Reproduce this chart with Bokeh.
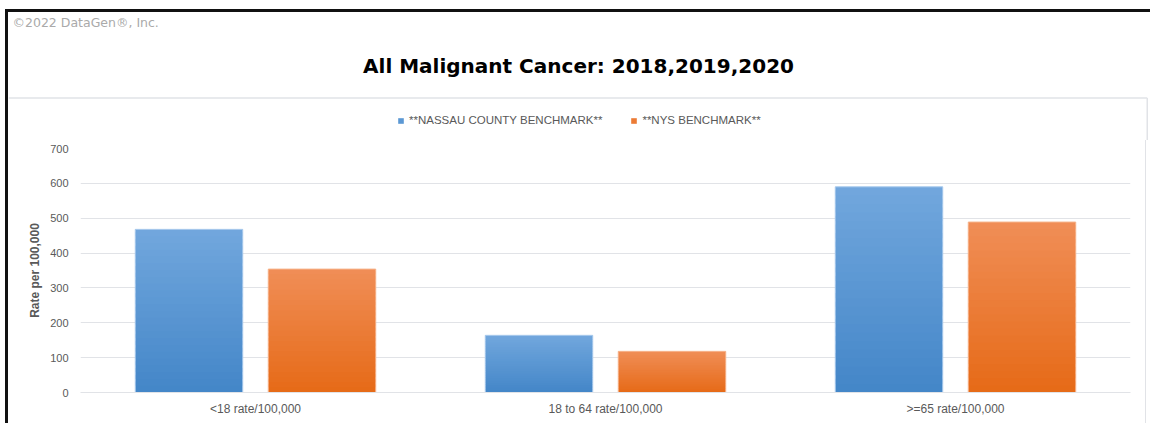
from bokeh.plotting import figure
from bokeh.layouts import column
from bokeh.models import (ColumnDataSource, FactorRange, Range1d, FixedTicker,
                          Legend, LegendItem)
from bokeh.transform import dodge
from bokeh.core.properties import value
from bokeh.embed import file_html
from bokeh.resources import INLINE

# ---- data ----
categories = ["<18 rate/100,000", "18 to 64 rate/100,000", ">=65 rate/100,000"]
nassau = [468, 164, 590]
nys = [354, 118, 489]
series_names = ["**NASSAU COUNTY BENCHMARK**", "**NYS BENCHMARK**"]
y_ticks = [0, 100, 200, 300, 400, 500, 600, 700]
title_text = "All Malignant Cancer: 2018,2019,2020"
copyright_text = "\u00a92022 DataGen\u00ae, Inc."
y_label = "Rate per 100,000"

# ---- styles ----
FONT = "Liberation Sans"
GRAY = "#595959"
GRID = "#e1e3e7"
W = 1142
HEADER_H = 128
CHART_H = 283
SEP_Y = 86
series_style = [
    dict(offset=-0.19, top="#72a7dd", bottom="#4386c8", edge="#a8c9ec", key="#5b98d4"),
    dict(offset=0.19, top="#f08e57", bottom="#e66a17", edge="#f6b38a", key="#ec7b35"),
]
N_BANDS = 24

# ---------------- header (copyright, title, separator, legend) ----------------
h = figure(width=W, height=HEADER_H, x_range=Range1d(0, W), y_range=Range1d(HEADER_H, 0),
           output_backend="svg", toolbar_location=None, min_border=0,
           x_axis_type=None, y_axis_type=None, frame_align=False)
h.grid.visible = False
h.outline_line_color = None
h.text(x=[4], y=[10], text=[copyright_text], text_font=value("DejaVu Sans"), text_font_size="12.5px",
       text_color="#aaaaaa", text_baseline="middle", text_align="left")
h.text(x=[570], y=[53], text=[title_text], text_font=value("DejaVu Sans"), text_font_size="20px",
       text_font_style="bold", text_color="black", text_baseline="middle", text_align="center")
h.segment(x0=[0], y0=[SEP_Y - 0.5], x1=[1138.75], y1=[SEP_Y - 0.5], line_color=GRID, line_width=1.5)
h.segment(x0=[1138.75], y0=[SEP_Y - 0.5], x1=[1138.75], y1=[HEADER_H], line_color=GRID, line_width=1.5)

legend_items = []
for name, st in zip(series_names, series_style):
    # zero-size proxy renderer: only supplies the legend key colour
    proxy = h.vbar(x="x", top="top", bottom="bottom", width=0,
                   source=ColumnDataSource(dict(x=[0], top=[0], bottom=[0])),
                   fill_color=st["key"], line_color=None)
    legend_items.append(LegendItem(label=name, renderers=[proxy]))
legend = Legend(items=legend_items, orientation="horizontal", location=(389, 13),
                glyph_width=7, glyph_height=7, label_standoff=5, spacing=28, padding=0,
                margin=0, border_line_color=None, background_fill_alpha=0,
                label_text_font=FONT, label_text_font_size="11.5px", label_text_color=GRAY,
                label_height=14)
h.add_layout(legend)

# ---------------- chart ----------------
p = figure(width=1138, height=CHART_H, x_range=FactorRange(factors=categories, range_padding=0),
           y_range=Range1d(0, 700), output_backend="svg", toolbar_location=None,
           min_border_left=72, min_border_right=16, min_border_top=8, min_border_bottom=31,
           frame_align=False, styles={"border-right": "1.5px solid #e1e3e7"})
p.outline_line_color = None
p.background_fill_color = "white"
p.border_fill_color = "white"

p.xgrid.grid_line_color = None
p.ygrid.grid_line_color = GRID
p.ygrid.grid_line_width = 1.2

p.yaxis.ticker = FixedTicker(ticks=y_ticks)
p.yaxis.axis_line_color = None
p.yaxis.major_tick_line_color = None
p.yaxis.minor_tick_line_color = None
p.yaxis.major_tick_out = 0
p.yaxis.minor_tick_out = 0
p.yaxis.major_label_standoff = 12
p.yaxis.major_label_text_font = FONT
p.yaxis.major_label_text_font_size = "11px"
p.yaxis.major_label_text_color = GRAY
p.yaxis.axis_label = y_label
p.yaxis.axis_label_text_font = FONT
p.yaxis.axis_label_text_font_size = "12px"
p.yaxis.axis_label_text_font_style = "bold"
p.yaxis.axis_label_text_color = GRAY
p.yaxis.axis_label_standoff = 5

p.xaxis.axis_line_color = GRID
p.xaxis.axis_line_width = 1.2
p.xaxis.major_tick_line_color = None
p.xaxis.minor_tick_line_color = None
p.xaxis.major_tick_out = 0
p.xaxis.minor_tick_out = 0
p.xaxis.major_label_standoff = 9
p.xaxis.major_label_text_font = FONT
p.xaxis.major_label_text_font_size = "12px"
p.xaxis.major_label_text_color = GRAY


def hex2rgb(c):
    c = c.lstrip("#")
    return tuple(int(c[i:i + 2], 16) for i in (0, 2, 4))


def mix(c1, c2, t):
    a, b = hex2rgb(c1), hex2rgb(c2)
    return "#%02x%02x%02x" % tuple(round(a[i] + (b[i] - a[i]) * t) for i in range(3))


for vals, st in zip([nassau, nys], series_style):
    xs, bots, tops, cols = [], [], [], []
    for k in range(N_BANDS):
        col = mix(st["bottom"], st["top"], (k + 0.5) / N_BANDS)
        for c, v in zip(categories, vals):
            xs.append(c)
            bots.append(v * k / N_BANDS)
            tops.append(v * min(k + 1.6, N_BANDS) / N_BANDS)
            cols.append(col)
    src = ColumnDataSource(dict(x=xs, bottom=bots, top=tops, color=cols))
    p.vbar(x=dodge("x", st["offset"], range=p.x_range), width=0.307, bottom="bottom", top="top",
           source=src, fill_color="color", line_color=None)
    osrc = ColumnDataSource(dict(x=categories, top=vals))
    p.vbar(x=dodge("x", st["offset"], range=p.x_range), width=0.307, top="top", bottom=0,
           source=osrc, fill_color=None, line_color=st["edge"], line_width=1)

layout = column(h, p, spacing=0,
                styles={"margin-left": "5px", "border-left": "3px solid #111111",
                        "margin-top": "9px", "border-top": "3px solid #111111"})

open("out.html", "w").write(file_html(layout, INLINE))
